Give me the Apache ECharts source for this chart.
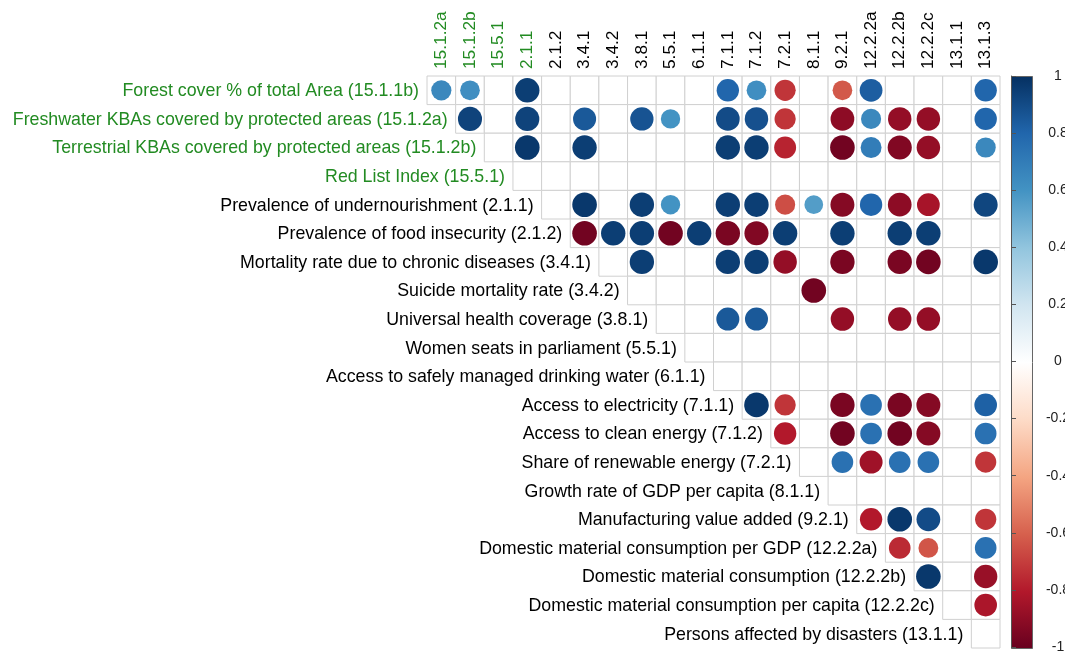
<!DOCTYPE html>
<html>
<head>
<meta charset="utf-8">
<title>SDG indicator correlations</title>
<script src="https://cdn.jsdelivr.net/npm/echarts@6/dist/echarts.min.js"></script>
<style>
  html, body { margin: 0; padding: 0; background: #fff; overflow: hidden; }
  /* a little wider than the window so the colour-bar labels run off the edge like the original */
  #chart { width: 1090px; height: 654px; }
</style>
</head>
<body>
<div id="chart"></div>
<script>
// row labels (top to bottom)
const rowLabels = [
  'Forest cover % of total Area (15.1.1b)',
  'Freshwater KBAs covered by protected areas (15.1.2a)',
  'Terrestrial KBAs covered by protected areas (15.1.2b)',
  'Red List Index (15.5.1)',
  'Prevalence of undernourishment (2.1.1)',
  'Prevalence of food insecurity (2.1.2)',
  'Mortality rate due to chronic diseases (3.4.1)',
  'Suicide mortality rate (3.4.2)',
  'Universal health coverage (3.8.1)',
  'Women seats in parliament (5.5.1)',
  'Access to safely managed drinking water (6.1.1)',
  'Access to electricity (7.1.1)',
  'Access to clean energy (7.1.2)',
  'Share of renewable energy (7.2.1)',
  'Growth rate of GDP per capita (8.1.1)',
  'Manufacturing value added (9.2.1)',
  'Domestic material consumption per GDP (12.2.2a)',
  'Domestic material consumption (12.2.2b)',
  'Domestic material consumption per capita (12.2.2c)',
  'Persons affected by disasters (13.1.1)'
];

// column labels (left to right)
const colLabels = [
  '15.1.2a', '15.1.2b', '15.5.1', '2.1.1', '2.1.2', '3.4.1', '3.4.2', '3.8.1',
  '5.5.1', '6.1.1', '7.1.1', '7.1.2', '7.2.1', '8.1.1', '9.2.1',
  '12.2.2a', '12.2.2b', '12.2.2c', '13.1.1', '13.1.3'
];

// how many leading rows / columns are printed in green
const greenRows = 4;
const greenCols = 4;

// correlations, row i starts at column i; null = not significant (blank cell)
const corrRows = [
  [0.65, 0.62, null, 0.95, null, null, null, null, null, null, 0.8, 0.62, -0.72, null, -0.62, 0.83, null, null, null, 0.8],
  [0.93, null, 0.93, null, 0.85, null, 0.87, 0.6, null, 0.9, 0.88, -0.72, null, -0.9, 0.65, -0.88, -0.88, null, 0.8],
  [null, 0.97, null, 0.95, null, null, null, null, 0.95, 0.95, -0.77, null, -0.97, 0.7, -0.93, -0.88, null, 0.65],
  [],
  [null, 0.97, null, 0.95, 0.6, null, 0.95, 0.95, -0.65, 0.56, -0.92, 0.8, -0.9, -0.83, null, 0.92],
  [-0.97, 0.95, 0.95, -0.97, 0.95, -0.95, -0.93, 0.95, null, 0.95, null, 0.95, 0.95, null, null],
  [null, 0.95, null, null, 0.95, 0.95, -0.88, null, -0.95, null, -0.95, -0.97, null, 0.97],
  [null, null, null, null, null, null, -0.97],
  [null, null, 0.85, 0.85, null, null, -0.88, null, -0.88, -0.88, null, null],
  [],
  [],
  [0.97, -0.72, null, -0.95, 0.75, -0.95, -0.92, null, 0.82],
  [-0.8, null, -0.97, 0.75, -0.97, -0.92, null, 0.75],
  [null, 0.75, -0.85, 0.75, 0.75, null, -0.72],
  [],
  [-0.8, 0.97, 0.9, null, -0.72],
  [-0.75, -0.63, null, 0.75],
  [0.97, null, -0.87],
  [null, -0.82],
  []
];

// RdBu palette, -1 .. 1
const palette = ['#67001F', '#B2182B', '#D6604D', '#F4A582', '#FDDBC7', '#FFFFFF',
                 '#D1E5F0', '#92C5DE', '#4393C3', '#2166AC', '#053061'];

const green = '#228B22';
const font = 'Liberation Sans, Arial, sans-serif';

const points = [];
corrRows.forEach(function (vals, r) {
  vals.forEach(function (v, k) {
    if (v !== null) points.push([r + k, r, v]);
  });
});

const chart = echarts.init(document.getElementById('chart'));

chart.setOption({
  backgroundColor: '#fff',
  animation: false,
  grid: [
    { left: 427, top: 76, width: 573, height: 572 },
    { left: 1011, top: 76, width: 21, height: 572 }
  ],
  xAxis: [
    {
      type: 'category',
      data: colLabels,
      position: 'top',
      axisLine: { show: false },
      axisTick: { show: false },
      splitLine: { show: false },
      axisLabel: {
        rotate: -90,
        margin: 7,
        fontSize: 17.3,
        fontFamily: font,
        interval: 0,
        color: function (val) {
          return colLabels.indexOf(val) < greenCols ? green : '#000';
        }
      }
    },
    { gridIndex: 1, type: 'value', show: false, min: 0, max: 1 }
  ],
  yAxis: [
    {
      type: 'category',
      data: rowLabels,
      inverse: true,
      axisLine: { show: false },
      axisTick: { show: false },
      axisLabel: { show: false },
      splitLine: { show: false }
    },
    {
      gridIndex: 1,
      type: 'value',
      position: 'right',
      min: -1,
      max: 1,
      interval: 0.2,
      splitLine: { show: false },
      axisLine: { show: true, lineStyle: { color: '#555', width: 1 } },
      axisTick: { show: true, length: 5, lineStyle: { color: '#555' } },
      axisLabel: {
        margin: 11,
        align: 'left',
        fontSize: 14,
        fontFamily: font,
        color: '#222',
        formatter: function (v) { return '{c|' + (+v.toFixed(1)) + '}'; },
        rich: {
          c: { width: 30, align: 'center', fontSize: 14, fontFamily: font, color: '#222' }
        }
      }
    }
  ],
  visualMap: {
    show: false,
    type: 'continuous',
    min: -1,
    max: 1,
    dimension: 2,
    seriesIndex: 1,
    inRange: { color: palette }
  },
  graphic: [
    {
      type: 'rect',
      left: 1011,
      top: 76,
      z: 0,
      shape: { width: 21, height: 572 },
      style: {
        fill: {
          type: 'linear', x: 0, y: 0, x2: 0, y2: 1,
          colorStops: palette.slice().reverse().map(function (c, i) {
            return { offset: i / (palette.length - 1), color: c };
          })
        },
        stroke: '#666',
        lineWidth: 1
      }
    }
  ],
  series: [
    {
      // upper-triangle cell borders + row labels
      type: 'custom',
      z: 1,
      silent: true,
      data: rowLabels.map(function (_, i) { return [i]; }),
      renderItem: function (params, api) {
        const r = api.value(0);
        const size = api.size([1, 1]);
        const children = [];
        for (let c = r; c < colLabels.length; c++) {
          const p = api.coord([c, r]);
          children.push({
            type: 'rect',
            shape: { x: p[0] - size[0] / 2, y: p[1] - size[1] / 2, width: size[0], height: size[1] },
            style: { fill: '#fff', stroke: '#d0d0d0', lineWidth: 1 }
          });
        }
        const p0 = api.coord([r, r]);
        children.push({
          type: 'text',
          style: {
            text: rowLabels[r],
            x: p0[0] - size[0] / 2 - 8,
            y: p0[1] + 1,
            align: 'right',
            verticalAlign: 'middle',
            fill: r < greenRows ? green : '#000',
            fontSize: 17.8,
            fontFamily: font
          }
        });
        return { type: 'group', children: children };
      }
    },
    {
      type: 'scatter',
      z: 2,
      data: points,
      symbol: 'circle',
      symbolSize: function (d) { return 25 * Math.sqrt(Math.abs(d[2])); },
      itemStyle: { opacity: 1 }
    }
  ]
});
</script>
</body>
</html>
